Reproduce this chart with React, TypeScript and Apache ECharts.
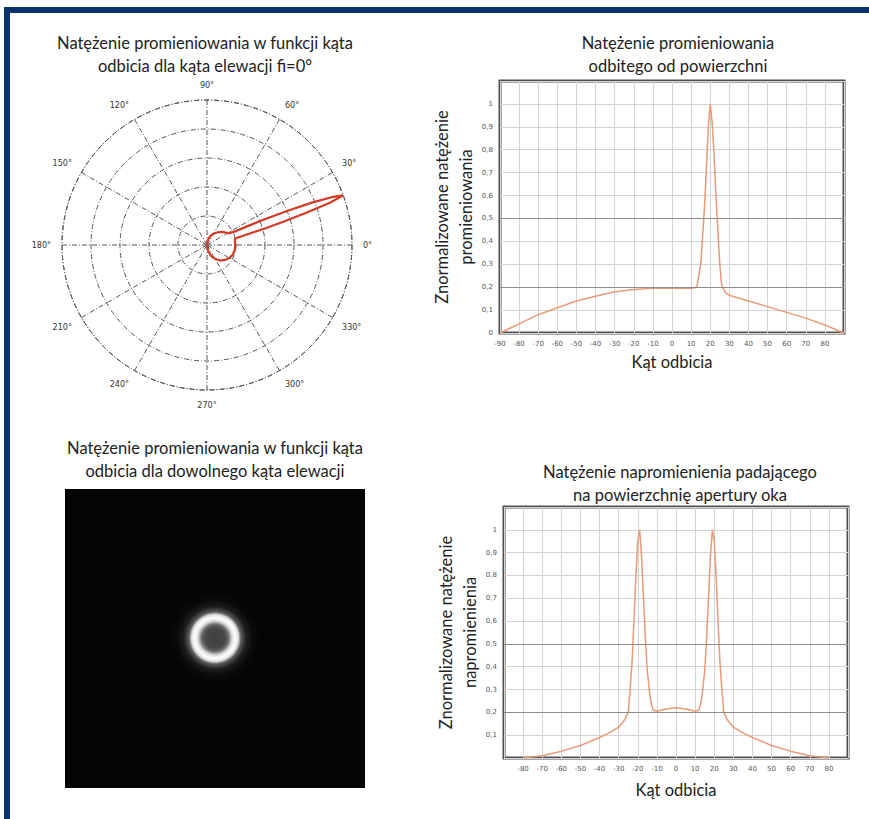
import React, { useEffect, useRef } from 'react';
import * as echarts from 'echarts';

// Reflected radiation (top-right chart and polar plot)
const reflectionAngles = [-90, -80, -70, -60, -50, -40, -30, -20, -10, 0, 10, 13, 15, 16, 17, 18, 19, 20, 21, 22, 23, 24, 25, 26, 28, 30, 40, 50, 60, 70, 80, 90];
const reflectedIntensity = [0, 0.04, 0.08, 0.11, 0.14, 0.16, 0.18, 0.19, 0.195, 0.195, 0.195, 0.2, 0.3, 0.42, 0.55, 0.72, 0.9, 1.0, 0.92, 0.78, 0.6, 0.45, 0.3, 0.21, 0.175, 0.165, 0.14, 0.115, 0.09, 0.065, 0.035, 0];

// Irradiance on the eye aperture (bottom-right chart)
const apertureAngles = [-80, -75, -70, -60, -50, -40, -35, -30, -27, -25, -24, -23, -22, -21, -20, -19, -18, -17, -16, -15, -14, -13, -12, -10, -5, 0, 5, 10, 12, 13, 14, 15, 16, 17, 18, 19, 20, 21, 22, 23, 24, 25, 27, 30, 35, 40, 50, 60, 70, 75, 80];
const apertureIntensity = [0, 0.005, 0.01, 0.03, 0.055, 0.09, 0.11, 0.135, 0.165, 0.2, 0.3, 0.42, 0.6, 0.8, 0.95, 1.0, 0.88, 0.7, 0.52, 0.38, 0.3, 0.24, 0.21, 0.205, 0.215, 0.22, 0.215, 0.205, 0.21, 0.24, 0.3, 0.38, 0.52, 0.7, 0.88, 1.0, 0.95, 0.8, 0.6, 0.42, 0.3, 0.2, 0.165, 0.135, 0.11, 0.09, 0.055, 0.03, 0.01, 0.005, 0];

const emphasisLevels = [0.2, 0.5];

const titleTopLeft = 'Natężenie promieniowania w funkcji kąta\nodbicia dla kąta elewacji fi=0°';
const titleTopRight = 'Natężenie promieniowania\nodbitego od powierzchni';
const titleBottomLeft = 'Natężenie promieniowania w funkcji kąta\nodbicia dla dowolnego kąta elewacji';
const titleBottomRight = 'Natężenie napromienienia padającego\nna powierzchnię apertury oka';
const yNameTop = 'Znormalizowane natężenie\npromieniowania';
const yNameBottom = 'Znormalizowane natężenie\nnapromienienia';
const xName = 'Kąt odbicia';

const FONT = 'Lato, "Open Sans", sans-serif';
const LINE_COLOR = '#e99a76';

export default function App() {
  const ref = useRef<HTMLDivElement>(null);

  useEffect(() => {
    const chart = echarts.init(ref.current!, null, { renderer: 'svg' });

    const yFmt = (hideZero: boolean) => (v: number) => {
      if (v > 1.05) return '';
      if (Math.abs(v) < 1e-9) return hideZero ? '' : '0';
      if (Math.abs(v - 1) < 1e-9) return '1';
      return v.toFixed(1).replace('.', ',');
    };
    const xFmt = (hideFirst: boolean) => (v: number) => {
      if (v >= 90) return '';
      if (hideFirst && v <= -90) return '';
      return String(v);
    };

    const polarData = reflectionAngles.map((a, i) => [reflectedIntensity[i], ((a % 360) + 360) % 360]);

    const cartX = (gi: number, hideFirst: boolean) => ({
      type: 'value',
      gridIndex: gi,
      min: -90,
      max: 90,
      interval: 10,
      name: xName,
      nameLocation: 'middle',
      nameGap: gi === 0 ? 20 : 23,
      nameTextStyle: { fontSize: 16.5, color: '#222', fontFamily: FONT },
      axisLine: { show: false },
      axisTick: { show: false },
      axisLabel: { fontSize: 7, color: '#555', margin: 7, formatter: xFmt(hideFirst), fontFamily: 'DejaVu Sans' },
      splitLine: { show: true, lineStyle: { color: '#d4d4d4', width: 1 } },
    });
    const cartY = (gi: number, name: string, hideZero: boolean) => ({
      type: 'value',
      gridIndex: gi,
      min: 0,
      max: 1.1,
      interval: 0.1,
      name,
      nameLocation: 'middle',
      nameGap: 19,
      nameTextStyle: { fontSize: 16.5, color: '#222', fontFamily: FONT, lineHeight: 24 },
      axisLine: { show: false },
      axisTick: { show: false },
      axisLabel: { fontSize: 7, color: '#555', margin: 7, formatter: yFmt(hideZero), fontFamily: 'DejaVu Sans' },
      splitLine: { show: true, lineStyle: { color: '#d4d4d4', width: 1 } },
    });

    const markLines = {
      silent: true,
      symbol: 'none',
      label: { show: false },
      lineStyle: { color: '#8c8c8c', width: 1, type: 'solid' },
      data: emphasisLevels.map((v) => ({ yAxis: v })),
    };

    const ringGradient = new echarts.graphic.RadialGradient(0.5, 0.5, 0.5, [
      { offset: 0, color: '#404040' },
      { offset: 0.22, color: '#474747' },
      { offset: 0.3, color: '#6a6a6a' },
      { offset: 0.38, color: '#dcdcdc' },
      { offset: 0.45, color: '#ffffff' },
      { offset: 0.52, color: '#dddddd' },
      { offset: 0.58, color: '#5a5a5a' },
      { offset: 0.7, color: '#1c1c1c' },
      { offset: 0.85, color: '#0a0a0a' },
      { offset: 1, color: '#050505' },
    ]);

    const titleText = (text: string, x: number, y: number) => ({
      type: 'text',
      x,
      y,
      style: {
        text,
        fill: '#222',
        fontSize: 16.5,
        fontFamily: FONT,
        lineHeight: 23,
        textAlign: 'center',
        textVerticalAlign: 'middle',
        verticalAlign: 'middle',
      },
    });

    const option: any = {
      animation: false,
      backgroundColor: '#ffffff',
      textStyle: { fontFamily: FONT },
      graphic: [
        { type: 'rect', shape: { x: 4, y: 7, width: 865, height: 6 }, style: { fill: '#0b336e' } },
        { type: 'rect', shape: { x: 4, y: 7, width: 6, height: 812 }, style: { fill: '#0b336e' } },
        titleText(titleTopLeft, 205, 54),
        titleText(titleTopRight, 678, 54.5),
        titleText(titleBottomLeft, 215, 459),
        titleText(titleBottomRight, 680, 483),
        { type: 'rect', shape: { x: 65, y: 489, width: 300, height: 299 }, style: { fill: '#050505' } },
        { type: 'circle', shape: { cx: 215, cy: 638, r: 45 }, style: { fill: ringGradient } },
      ],
      polar: { center: [207, 245], radius: 145 },
      angleAxis: {
        type: 'value',
        min: 0,
        max: 360,
        interval: 30,
        startAngle: 0,
        clockwise: false,
        axisLine: { show: true, lineStyle: { color: '#555', width: 1, type: [5, 2, 1, 2] } },
        axisTick: { show: false },
        axisLabel: {
          show: true,
          margin: 11,
          fontSize: 8,
          color: '#333',
          fontFamily: 'DejaVu Sans',
          formatter: (v: number) => (v >= 360 ? '' : v + '°'),
        },
        splitLine: { show: true, lineStyle: { color: '#555', width: 1, type: [5, 2, 1, 2] } },
      },
      radiusAxis: {
        type: 'value',
        min: 0,
        max: 1,
        interval: 0.2,
        axisLine: { show: false },
        axisTick: { show: false },
        axisLabel: { show: false },
        splitLine: { show: true, lineStyle: { color: '#555', width: 1, type: [5, 2, 1, 2] } },
      },
      grid: [
        { left: 500, top: 81, width: 344, height: 252, show: true, borderColor: '#505050', borderWidth: 3, backgroundColor: '#fff' },
        { left: 504, top: 507, width: 344, height: 251, show: true, borderColor: '#505050', borderWidth: 3, backgroundColor: '#fff' },
      ],
      xAxis: [cartX(0, false), cartX(1, true)],
      yAxis: [cartY(0, yNameTop, false), cartY(1, yNameBottom, true)],
      series: [
        {
          type: 'line',
          coordinateSystem: 'polar',
          data: polarData,
          showSymbol: false,
          lineStyle: { color: '#d23a26', width: 2.2 },
        },
        {
          type: 'line',
          xAxisIndex: 0,
          yAxisIndex: 0,
          data: reflectionAngles.map((a, i) => [a, reflectedIntensity[i]]),
          showSymbol: false,
          lineStyle: { color: LINE_COLOR, width: 1.5 },
          markLine: markLines,
          z: 3,
        },
        {
          type: 'line',
          xAxisIndex: 1,
          yAxisIndex: 1,
          data: apertureAngles.map((a, i) => [a, apertureIntensity[i]]),
          showSymbol: false,
          lineStyle: { color: LINE_COLOR, width: 1.5 },
          markLine: markLines,
          z: 3,
        },
      ],
    };

    chart.setOption(option);
    return () => chart.dispose();
  }, []);

  return (
    <div
      ref={ref}
      style={{ position: 'fixed', left: 0, top: 0, width: 869, height: 819, background: '#fff' }}
    />
  );
}
